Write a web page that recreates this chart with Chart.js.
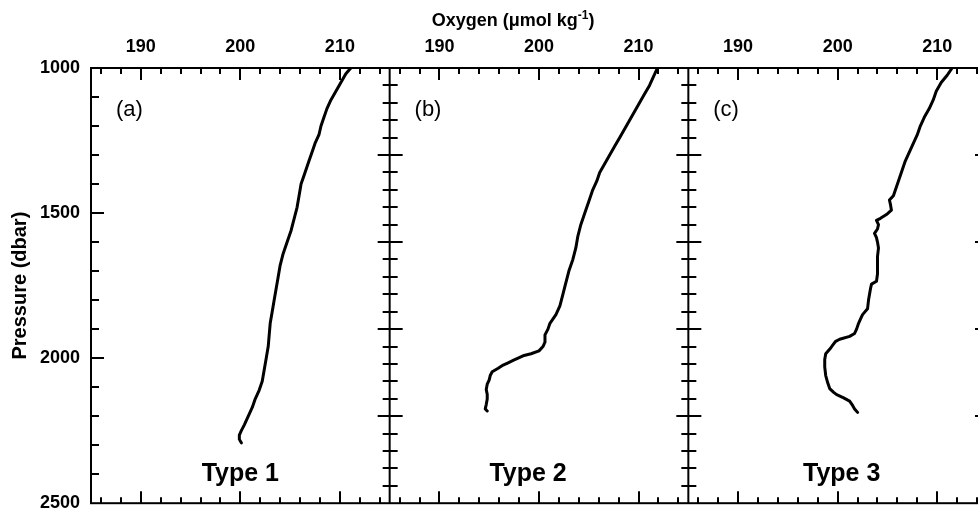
<!DOCTYPE html>
<html>
<head>
<meta charset="utf-8">
<style>
  html, body { margin: 0; padding: 0; background: #fff; overflow: hidden; }
  #wrap { position: relative; width: 978px; height: 525px; overflow: hidden; }
  canvas { position: absolute; left: 0; top: 0; }
</style>
</head>
<body>
<div id="wrap"><canvas id="oxyChart" width="1000" height="525"></canvas></div>
<script src="https://cdn.jsdelivr.net/npm/chart.js"></script>
<script>
// profiles: pressure (dbar) and oxygen (umol/kg)
const presA = [1000, 1020, 1050, 1080, 1110, 1140, 1170, 1200, 1230, 1260, 1290, 1320, 1360, 1400, 1440, 1480, 1520, 1560, 1600, 1640,
  1680, 1720, 1760, 1800, 1840, 1880, 1920, 1960, 2000, 2040, 2080, 2110, 2140, 2170, 2200, 2230, 2250, 2265, 2280, 2292];
const oxyA = [211.1, 210.6, 210.1, 209.6, 209.1, 208.7, 208.4, 208.1, 207.9, 207.5, 207.2, 206.9, 206.5, 206.1, 205.9, 205.7, 205.4, 205.1, 204.7, 204.3,
  204.0, 203.8, 203.6, 203.4, 203.2, 203.0, 202.9, 202.8, 202.6, 202.4, 202.2, 201.9, 201.5, 201.2, 200.8, 200.4, 200.1, 199.9, 199.9, 200.1];

const presB = [1000, 1030, 1060, 1090, 1120, 1150, 1180, 1210, 1240, 1270, 1300, 1330, 1360, 1390, 1420, 1460, 1500, 1540, 1580, 1620,
  1660, 1700, 1740, 1780, 1820, 1850, 1880, 1900, 1920, 1945, 1960, 1975, 1985, 1992, 2000, 2008, 2016, 2024, 2035, 2047,
  2060, 2075, 2090, 2108, 2125, 2141, 2160, 2175, 2182];
const oxyB = [211.9, 211.5, 211.1, 210.6, 210.1, 209.6, 209.1, 208.6, 208.1, 207.6, 207.1, 206.6, 206.1, 205.8, 205.4, 205.0, 204.6, 204.2, 203.9, 203.7,
  203.4, 203.0, 202.7, 202.4, 202.1, 201.7, 201.1, 200.9, 200.6, 200.6, 200.4, 200.0, 199.2, 198.4, 197.9, 197.4, 196.9, 196.4, 195.9, 195.3,
  195.1, 195.0, 194.8, 194.7, 194.8, 194.8, 194.7, 194.6, 194.8];

const presC = [1000, 1025, 1050, 1080, 1110, 1140, 1170, 1200, 1230, 1260, 1290, 1320, 1350, 1380, 1410, 1440, 1455, 1470, 1490, 1505,
  1518, 1525, 1540, 1555, 1570, 1585, 1600, 1620, 1650, 1680, 1710, 1735, 1745, 1760, 1780, 1800, 1830, 1850, 1865, 1880,
  1900, 1915, 1925, 1935, 1942, 1955, 1965, 1985, 2005, 2030, 2060, 2085, 2105, 2118, 2126, 2137, 2148, 2163, 2175, 2187];
const oxyC = [211.5, 211.0, 210.4, 209.9, 209.6, 209.2, 208.7, 208.3, 208.0, 207.6, 207.2, 206.8, 206.5, 206.2, 205.9, 205.6, 205.2, 205.3, 205.4, 204.9,
  204.3, 203.9, 204.1, 204.0, 203.7, 203.9, 204.0, 204.1, 204.0, 204.0, 204.0, 203.9, 203.4, 203.3, 203.2, 203.1, 203.0, 202.5, 202.3, 202.1,
  201.9, 201.7, 201.2, 200.2, 199.8, 199.5, 199.3, 198.8, 198.7, 198.7, 198.8, 199.0, 199.2, 199.6, 199.9, 200.6, 201.2, 201.5, 201.7, 202.0];

const oxyTicks = [190, 200, 210];
const presTicks = [1000, 1500, 2000, 2500];
const panelTags = ['(a)', '(b)', '(c)'];
const typeNames = ['Type 1', 'Type 2', 'Type 3'];

const FONT = '"Liberation Sans", Arial, sans-serif';

const toPoints = (ox, pr) => ox.map((v, i) => ({ x: v, y: pr[i] }));

const profile = (data, axis) => ({
  data,
  xAxisID: axis,
  yAxisID: 'y',
  showLine: true,
  borderColor: '#000',
  borderWidth: 3,
  borderJoinStyle: 'round',
  borderCapStyle: 'round',
  pointRadius: 0,
  tension: 0
});

const oxyAxis = () => ({
  type: 'linear',
  position: 'top',
  stack: 'oxygen',
  stackWeight: 1,
  min: 185,
  max: 215,
  afterBuildTicks: s => { s.ticks = oxyTicks.map(v => ({ value: v })); },
  afterFit: s => { s.height = 68; },
  grid: { display: false, drawTicks: false },
  border: { display: false },
  ticks: {
    color: '#000',
    padding: 10,
    maxRotation: 0,
    autoSkip: false,
    callback: v => String(v),
    font: { size: 18, weight: 'bold', family: FONT }
  }
});

// frame, inward ticks, panel tags and the top title
const frameAndLabels = {
  id: 'frameAndLabels',
  afterDatasetsDraw(chart) {
    const { ctx, chartArea: a, scales } = chart;
    const y = scales.y;
    const xs = [scales.x1, scales.x2, scales.x3].sort((p, q) => p.left - q.left);
    const seg = (x0, y0, x1, y1) => { ctx.beginPath(); ctx.moveTo(x0, y0); ctx.lineTo(x1, y1); ctx.stroke(); };

    ctx.save();
    ctx.strokeStyle = '#000';
    ctx.lineWidth = 2;
    ctx.strokeRect(a.left, a.top, a.right - a.left, a.bottom - a.top);

    xs.forEach((s, i) => {
      if (i > 0) seg(s.left, a.top, s.left, a.bottom);
      for (let v = 186; v <= 214; v += 2) {
        const px = Math.round(s.getPixelForValue(v));
        const len = v % 10 === 0 ? 12 : 6;
        seg(px, a.top, px, a.top + len);
        seg(px, a.bottom, px, a.bottom - len);
      }
    });

    // left axis of panel a: every 100 dbar
    for (let p = 1100; p < 2500; p += 100) {
      const py = Math.round(y.getPixelForValue(p));
      seg(a.left, py, a.left + (p % 500 === 0 ? 13 : 8), py);
    }

    // panel edges: every 60 dbar, longer every 300
    for (let p = 1060; p < 2500; p += 60) {
      const py = Math.round(y.getPixelForValue(p));
      const major = (p - 1000) % 300 === 0;
      [xs[1].left, xs[2].left].forEach(x => {
        seg(x - (major ? 12 : 7), py, x + (major ? 13 : 8), py);
      });
      seg(a.right - (major ? 12 : 7), py, a.right, py);
    }

    ctx.fillStyle = '#000';
    xs.forEach((s, i) => {
      ctx.font = '22px ' + FONT;
      ctx.textAlign = 'left';
      ctx.textBaseline = 'middle';
      ctx.fillText(panelTags[i], s.getPixelForValue(187.5), y.getPixelForValue(1145));

      ctx.font = 'bold 25px ' + FONT;
      ctx.textAlign = 'center';
      ctx.textBaseline = 'alphabetic';
      const typeAt = [200, 198.9, 200.4][i];
      ctx.fillText(typeNames[i], s.getPixelForValue(typeAt), y.getPixelForValue(2424));
    });

    // title with superscript
    const mainFont = 'bold 18px ' + FONT;
    const supFont = 'bold 12px ' + FONT;
    const t1 = 'Oxygen (\u03bcmol kg', t2 = '-1', t3 = ')';
    ctx.font = mainFont;
    const w1 = ctx.measureText(t1).width, w3 = ctx.measureText(t3).width;
    ctx.font = supFont;
    const w2 = ctx.measureText(t2).width;
    let tx = xs[1].getPixelForValue(197.4) - (w1 + w2 + w3) / 2;
    ctx.textAlign = 'left';
    ctx.textBaseline = 'alphabetic';
    ctx.font = mainFont;
    ctx.fillText(t1, tx, 26);
    tx += w1;
    ctx.font = supFont;
    ctx.fillText(t2, tx, 19);
    tx += w2;
    ctx.font = mainFont;
    ctx.fillText(t3, tx, 26);
    ctx.restore();
  }
};

new Chart(document.getElementById('oxyChart'), {
  type: 'scatter',
  data: {
    datasets: [
      profile(toPoints(oxyA, presA), 'x1'),
      profile(toPoints(oxyB, presB), 'x2'),
      profile(toPoints(oxyC, presC), 'x3')
    ]
  },
  options: {
    responsive: false,
    animation: false,
    devicePixelRatio: 1,
    layout: { padding: { left: 0, top: 0, right: 13, bottom: 7 } },
    plugins: {
      legend: { display: false },
      tooltip: { enabled: false }
    },
    scales: {
      // top boxes are laid out last-first, so list the panels right to left
      x3: oxyAxis(),
      x2: oxyAxis(),
      x1: oxyAxis(),
      y: {
        type: 'linear',
        position: 'left',
        reverse: true,
        min: 1000,
        max: 2500,
        afterBuildTicks: s => { s.ticks = presTicks.map(v => ({ value: v })); },
        afterFit: s => { s.width = 91; },
        grid: { display: false, drawTicks: false },
        border: { display: false },
        ticks: {
          color: '#000',
          padding: 11,
          callback: v => String(v),
          font: { size: 18, weight: 'bold', family: FONT }
        },
        title: {
          display: true,
          text: 'Pressure (dbar)',
          color: '#000',
          padding: { top: 8, bottom: 0 },
          font: { size: 20, weight: 'bold', family: FONT }
        }
      }
    }
  },
  plugins: [frameAndLabels]
});
</script>
</body>
</html>
